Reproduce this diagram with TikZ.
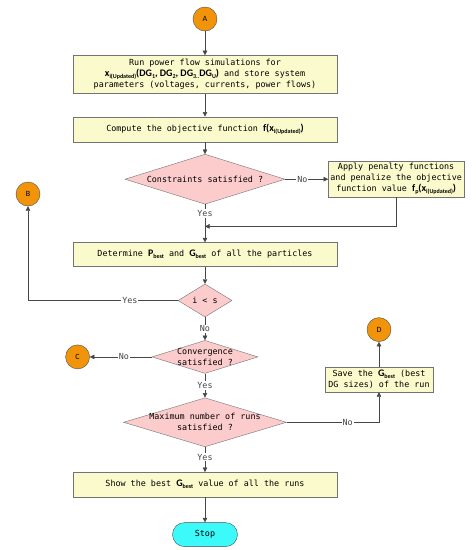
\documentclass[tikz,border=0pt]{standalone}
\usepackage{fontspec}
\setmonofont{DejaVu Sans Mono}
\newfontfamily\carlito{Carlito}
\usetikzlibrary{arrows.meta,positioning,shapes.geometric}
\definecolor{flowYellow}{RGB}{250,250,205}
\definecolor{flowPink}{RGB}{252,204,204}
\definecolor{flowOrange}{RGB}{242,148,10}
\definecolor{flowCyan}{RGB}{60,250,250}
\definecolor{flowLine}{RGB}{70,70,70}
\newcommand{\hl}[1]{{\carlito\fontsize{10}{11}\selectfont\bfseries #1}}
\newcommand{\lowsub}[1]{\raisebox{-0.4ex}{\fontsize{6}{6}\selectfont #1}}

\begin{document}
\begin{tikzpicture}[
  x=1pt,y=1pt,
  base/.style={font=\fontsize{8.4}{11}\selectfont\ttfamily},
  process/.style={
    base,
    draw=black!55,
    fill=flowYellow,
    align=center,
    inner sep=2pt,
    minimum width=264pt
  },
  decision/.style={
    base,
    diamond,
    aspect=3.2,
    draw=black!55,
    fill=flowPink,
    align=center,
    inner xsep=-12pt,
    inner ysep=0pt
  },
  connector/.style={circle,draw=black!70,fill=flowOrange,minimum size=24pt,
    inner sep=0pt,font=\carlito\fontsize{8}{9}\selectfont},
  terminal/.style={base,rounded corners=12pt,draw=black!70,fill=flowCyan,
    minimum width=65pt,minimum height=24pt},
  arrow/.style={-{Triangle[length=4.5pt,width=4.5pt]},flowLine},
  answer/.style={base,fill=white,inner sep=1pt}
]
  \useasboundingbox (0,0) rectangle (475,-550);

  \node[connector] (A) at (205,-19) {A};
  \node[process,minimum height=38pt,below=24pt of A] (simulate)
    {Run power flow simulations for\\
     \hl{x\lowsub{i(Updated)}(DG\lowsub{1}, DG\lowsub{2}, DG\lowsub{3..}DG\lowsub{U})} and store system\\
     parameters (voltages, currents, power flows)};
  \node[process,minimum height=25pt,below=23pt of simulate] (objective)
    {Compute the objective function \hl{f(x\lowsub{i(Updated)})}};
  \node[decision,minimum width=160pt,minimum height=50pt,below=12pt of objective] (constraints)
    {Constraints satisfied ?};
  \node[process,minimum width=135pt,minimum height=33pt,right=43pt of constraints] (penalty)
    {Apply penalty functions\\and penalize the objective\\
     function value \hl{f\lowsub{p}(x\lowsub{i(Updated)})}};
  \node[process,minimum height=24pt,below=38pt of constraints] (best)
    {Determine \hl{P\lowsub{best}} and \hl{G\lowsub{best}} of all the particles};
  \node[decision,aspect=1.64,minimum width=54pt,minimum height=33pt,below=17pt of best] (iter) {i < s};
  \node[connector] (B) at (28,-194) {B};
  \node[decision,minimum width=106pt,minimum height=33pt,below=23pt of iter] (converge)
    {Convergence\\satisfied ?};
  \node[connector,left=62pt of converge] (C) {C};
  \node[decision,aspect=3.33,minimum width=163pt,minimum height=49pt,below=24pt of converge] (maxruns)
    {Maximum number of runs\\satisfied ?};
  \node[process,minimum width=108pt,minimum height=25pt] (save) at (379,-379.5)
    {Save the \hl{G\lowsub{best}} (best\\DG sizes) of the run};
  \node[connector,above=25pt of save] (D) {D};
  \node[process,minimum height=25pt,below=25pt of maxruns] (show)
    {Show the best \hl{G\lowsub{best}} value of all the runs};
  \node[terminal,below=25pt of show] (stop) {Stop};

  % main flow
  \draw[arrow] (A) -- (simulate);
  \draw[arrow] (simulate) -- (objective);
  \draw[arrow] (objective) -- (constraints);
  \draw[arrow] (constraints) -- node[answer,pos=0.4]{No} (penalty);
  \coordinate (merge) at ([yshift=-22pt]constraints.south);
  \draw[arrow] (constraints) -- node[answer,pos=0.24]{Yes} (best);
  \draw[arrow] (penalty.south) |- (merge);
  \draw[arrow] (best) -- (iter);
  \draw[arrow] (iter.west) -| node[answer,pos=0.16]{Yes} (B.south);
  \draw[arrow] (iter) -- node[answer]{No} (converge);
  \draw[arrow] (converge) -- node[answer,pos=0.45]{No} (C);
  \draw[arrow] (converge) -- node[answer]{Yes} (maxruns);
  \draw[arrow] (maxruns.east) -| node[answer,pos=0.33]{No} (save.south);
  \draw[arrow] (save) -- (D);
  \draw[arrow] (maxruns) -- node[answer,pos=0.4]{Yes} (show);
  \draw[arrow] (show) -- (stop);
\end{tikzpicture}
\end{document}
